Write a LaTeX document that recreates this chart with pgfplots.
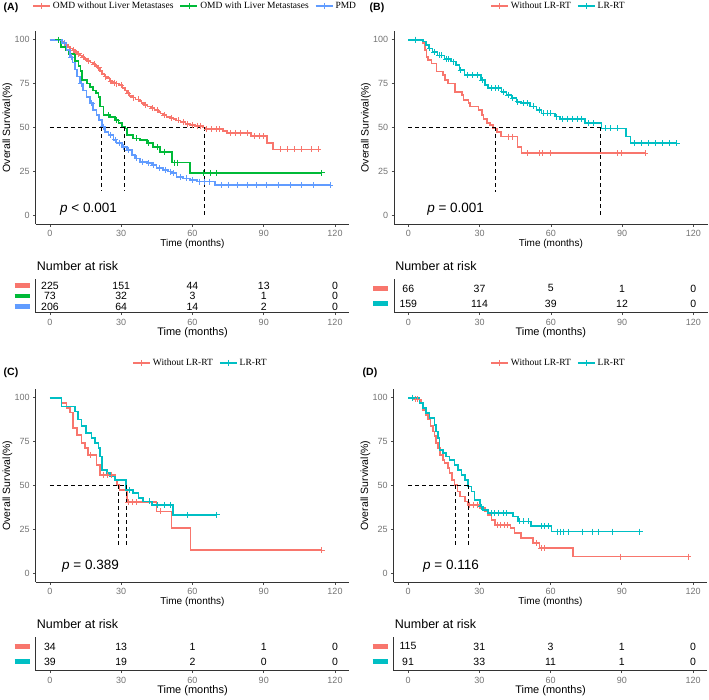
\documentclass[border=0pt]{standalone}
\usepackage{fontspec}
\setmainfont{Liberation Sans}
\newfontfamily\legfont{Liberation Serif}
\usepackage{pgfplots}
\pgfplotsset{compat=1.18}

\definecolor{kmred}{HTML}{F8766D}
\definecolor{kmgreen}{HTML}{00BA38}
\definecolor{kmblue}{HTML}{619CFF}
\definecolor{kmteal}{HTML}{00BFC4}

\newcommand{\sbar}[1]{\textcolor{#1}{\rule{15pt}{4.5pt}}}

\tikzset{pval/.style={anchor=west, inner sep=0pt, font=\fontsize{13.5}{15}\selectfont}}

\pgfplotsset{
  base/.style={
    scale only axis, anchor=south west,
    width=313.5pt, xmin=-6, xmax=126,
    xtick={0,30,60,90,120},
    axis lines=left, axis line style={-, line width=0.8pt, color=black!80},
    tick align=outside, tick style={line width=0.6pt, color=black!70},
    major tick length=2.5pt,
    /pgf/number format/assume math mode=true,
    ticklabel style={font=\fontsize{9}{10}\selectfont, text=black!55},
    xlabel={Time (months)},
    every axis x label/.style={at={(axis description cs:0.5,0)}, anchor=center, yshift=-20pt},
  },
  km/.style={base, height=193.2pt, ymin=-5, ymax=105, ytick={0,25,50,75,100},
    xlabel style={font=\fontsize{10}{12}\selectfont},
    ylabel={Overall Survival(\%)},
    every axis y label/.style={at={(axis description cs:-0.0901,0.5)}, rotate=90, anchor=center},
    ylabel style={font=\fontsize{10.5}{12}\selectfont},
    legend style={draw=none, fill=none, inner sep=0pt, anchor=west,
      font=\legfont\fontsize{9.5}{11}\selectfont, legend columns=-1,
      /tikz/every even column/.append style={column sep=4pt}},
  },
  risk/.style={base, height=33.4pt, ymin=0.4,
    ytick style={draw=none},
    xlabel style={font=\fontsize{11}{12}\selectfont},
    title={Number at risk},
    every axis title/.style={at={(axis description cs:0,1)}, anchor=west, inner sep=0pt,
      yshift=13pt, xshift=1pt, font=\fontsize{12.5}{14}\selectfont},
  },
  curve/.style={const plot, line width=1.7pt, forget plot},
  cens/.style={only marks, mark=+, mark size=3pt, mark options={line width=0.7pt}, forget plot},
  med/.style={black, line width=0.8pt, dash pattern=on 4pt off 3pt, forget plot},
  nar/.style={draw=none, mark=none, forget plot, nodes near coords,
    point meta=explicit symbolic, nodes near coords align=center,
    every node near coord/.append style={font=\fontsize{10.5}{12}\selectfont, text=black, inner sep=0pt}},
  lg/.style={line width=1.7pt, mark=+, mark size=3pt, mark options={line width=0.7pt}},
}

\begin{document}
\begin{tikzpicture}
\useasboundingbox (0pt,0pt) rectangle (709pt,700pt);

\node[font=\bfseries\fontsize{10.5}{12}\selectfont] at (11pt,692pt) {(A)};
\node[font=\bfseries\fontsize{10.5}{12}\selectfont] at (377pt,692pt) {(B)};
\node[font=\bfseries\fontsize{10.5}{12}\selectfont] at (11pt,327pt) {(C)};
\node[font=\bfseries\fontsize{10.5}{12}\selectfont] at (370pt,327pt) {(D)};

% ---------------- (A)
\begin{axis}[km, at={(35.75pt,475.9pt)},
  legend style={at={(axis description cs:-0.012,1.129)}}]
\addlegendimage{lg, kmred}\addlegendentry{OMD without Liver Metastases}
\addlegendimage{lg, kmgreen}\addlegendentry{OMD with Liver Metastases}
\addlegendimage{lg, kmblue}\addlegendentry{PMD}
\addplot[curve, kmred] table {
0 100
4.5 99
5.5 98
6.5 97
7.5 96
8.5 95
9.5 94
10.5 93
11.5 92
12.5 91
13.5 90
14.5 89
15.5 88
17 87
18 86
19 85
20 84
21 82
22 80.5
23 79
24 78
25 76.5
26 75.5
27.5 75
29 74
30.5 72.5
31.5 71
32.5 69.5
33.5 68
34.5 67
36 66
37.5 65
38.5 64
39.5 63
41 62
42.5 61
44 60
45.5 59
46.5 58
47.5 57
49 56
50.5 55.5
52 55
53 54
55 53
57 52
59 51.5
61 51
64.5 50
65.3 49
72.8 48
74.4 47
84.5 45
91.5 41
94 37.5
113 37.5
};
\addplot[cens, kmred] table {
6 98
10 94
12 92
14 90
16 88
18.5 86
20.5 84
23.5 79
25.5 76.5
27 75.5
28 75
30 74
33 69.5
35 67
37 66
40 63
43 61
45 60
48 57
51 55.5
54 54
56 53
58 52
60 51.5
62 51
63.5 51
66 49
68 49
70 49
71.5 49
76 47
78 47
80 47
83 47
86 45
88 45
90 45
97 37.5
100 37.5
103 37.5
106 37.5
110 37.5
113 37.5
};
\addplot[curve, kmgreen] table {
0 100
4.5 96
6.5 94
8 92
10.5 88
12 85
12.8 82
13.4 77
15.5 75
16.8 73
18.2 71
19.5 69.5
20.4 67.5
21 62
22.5 57
25.3 56
27.4 54.3
28.8 52.4
30.2 50.5
31.6 49.5
32.3 45.7
35 43.8
37.9 43
40.7 41
43.5 39
46.3 36.2
51.5 30
58.8 24.2
114.4 24.2
};
\addplot[cens, kmgreen] table {
3.5 100
24.5 57
28 54.3
36.5 43.8
41.5 41
45 39
48 36.2
52.5 30
53.5 30
64.6 24.2
67.4 24.2
70 24.2
114.4 24.2
};
\addplot[curve, kmblue] table {
0 100
5 98
7 94
8.4 90
9.5 87
10.5 83
11.5 79
12.6 75
14 71
15.4 67.5
16.8 64
18.2 60
19.6 57
20.6 54.3
21.8 50.5
23.2 47.6
24.6 45.7
26.7 43
28 41
30.2 39
32.3 37.2
34.4 34.3
35.8 32.4
37.9 30.5
40.7 29.6
42.8 28.7
44.9 26.8
47.7 25.8
49.8 24.9
51.2 24
53.3 22
56.1 21
59 20.1
61.8 19.2
69.5 17.3
118 17.3
};
\addplot[cens, kmblue] table {
6 98
9 90
13 75
17.5 64
22.5 50.5
25.5 45.7
27.5 43
29 41
31 39
33 37.2
36.5 32.4
39 30.5
41.5 29.6
43.5 28.7
46 26.8
48.5 25.8
50.5 24.9
52 24
55 22
57.5 21
60 20.1
63 19.2
65 19.2
67 19.2
72 17.3
75 17.3
79 17.3
83 17.3
87 17.3
91 17.3
96 17.3
101 17.3
106 17.3
111 17.3
118 17.3
};
\addplot[med] coordinates {(0,50) (64.8,50)};
\addplot[med] coordinates {(21.8,50) (21.8,14)};
\addplot[med] coordinates {(31.2,50) (31.2,14)};
\addplot[med] coordinates {(64.8,50) (64.8,0)};
\node[pval] at (axis cs:4.2,3.6) {\textit{p} < 0.001};
\end{axis}

\begin{axis}[risk, at={(35.75pt,387.3pt)}, ymax=3.6, ytick={1,2,3},
  yticklabels={\sbar{kmblue},\sbar{kmgreen},\sbar{kmred}}]
\addplot[nar] table[meta=n] {
x y n
0 3 225
30 3 151
60 3 44
90 3 13
120 3 0
0 2 73
30 2 32
60 2 3
90 2 1
120 2 0
0 1 206
30 1 64
60 1 14
90 1 2
120 1 0
};
\end{axis}

% ---------------- (B)
\begin{axis}[km, at={(394.05pt,475.9pt)},
  legend style={at={(axis description cs:0.306,1.129)}}]
\addlegendimage{lg, kmred}\addlegendentry{Without LR-RT}
\addlegendimage{lg, kmteal}\addlegendentry{LR-RT}
\addplot[curve, kmred] table {
0 100
6.3 98
7 94
7.6 90
8.4 88.4
9.8 86.5
11.9 81.8
14.7 80
15.4 77
16.8 75
19.6 70.4
22.5 68.5
23.2 65.7
25.3 63.8
26 61.9
29.5 60
30.9 57
31.6 55
33 52.4
34.4 51.4
35.8 49.5
37.2 47.6
38.9 44.8
46 39
47.7 35.3
99.6 35.3
};
\addplot[cens, kmred] table {
3 100
42 44.8
44 44.8
50 35.3
55 35.3
56.5 35.3
60 35.3
88 35.3
89.5 35.3
99.6 35.3
};
\addplot[curve, kmteal] table {
0 100
6.3 99
7.4 97
8.8 95
10.2 93
12.3 91
15.2 89
18 87.5
20.1 85.6
21.5 82.7
23.7 80
30.5 77
32.3 74
33.7 72.3
39.3 70.4
41.4 68.5
43.5 66.6
45.6 64.7
47.7 63.8
51.2 62
54 60
56.1 58
61.8 56.2
63.9 55
74.4 52.4
81.4 49.5
91.6 44.8
93.6 41
113 41
};
\addplot[cens, kmteal] table {
3 100
9 95
11 93
13 91
14 91
16 89
17 89
19 87.5
22 82.7
25 80
27 80
29 80
31 77
35 72.3
36.5 72.3
38 72.3
40 70.4
42 68.5
44 66.6
46 64.7
48.5 63.8
50 63.8
52.5 62
55 60
57 58
58.5 58
60 58
62.5 56.2
65 55
67 55
69 55
71 55
73 55
76 52.4
78 52.4
83 49.5
85 49.5
88 49.5
95 41
98 41
101 41
104 41
107 41
110 41
113 41
};
\addplot[med] coordinates {(0,50) (81,50)};
\addplot[med] coordinates {(36.8,50) (36.8,13)};
\addplot[med] coordinates {(81,50) (81,0)};
\node[pval] at (axis cs:7.9,3.6) {\textit{p} = 0.001};
\end{axis}

\begin{axis}[risk, at={(394.05pt,387.3pt)}, ymax=2.6, ytick={1,2},
  yticklabels={\sbar{kmteal},\sbar{kmred}}]
\addplot[nar] table[meta=n] {
x y n
0 2 66
30 2 37
60 2 5
90 2 1
120 2 0
0 1 159
30 1 114
60 1 39
90 1 12
120 1 0
};
\end{axis}

% ---------------- (C)
\begin{axis}[km, at={(35.75pt,117.9pt)},
  legend style={at={(axis description cs:0.307,1.135)}}]
\addlegendimage{lg, kmred}\addlegendentry{Without LR-RT}
\addlegendimage{lg, kmteal}\addlegendentry{LR-RT}
\addplot[curve, kmred] table {
0 100
4.9 97
7 94.3
8.4 91.6
9.6 82.7
11.5 78.9
13.3 74
14.7 71.3
16.1 67.5
19.6 61.8
21 56
27.4 53.2
28.3 50.4
29.3 47.5
32.3 40.5
44.9 35.2
51.2 25.7
59.2 13.3
114.4 13.3
};
\addplot[cens, kmred] table {
16.8 67.5
22.5 56
24 56
26 56
33 40.5
34.5 40.5
36.5 40.5
46.5 35.2
114.4 13.3
};
\addplot[curve, kmteal] table {
0 100
4.9 95
10.5 92.2
11.9 87.5
13.3 83.7
15.2 79.8
17.5 77
18.9 74
20.4 71.3
21.1 66.5
21.8 58.9
23.9 57
25.3 55.1
27.4 53.2
32 47.5
35 45.6
37.2 42.8
39.3 40.9
42.8 39
51.9 33.3
70.2 33.3
};
\addplot[cens, kmteal] table {
33.5 47.5
42 40.9
45 39
48 39
50.5 39
58 33.3
70.2 33.3
};
\addplot[med] coordinates {(0,50) (32,50)};
\addplot[med] coordinates {(28.9,50) (28.9,14.3)};
\addplot[med] coordinates {(32,50) (32,14.3)};
\node[pval] at (axis cs:5.05,3.8) {\textit{p} = 0.389};
\end{axis}

\begin{axis}[risk, at={(35.75pt,29.3pt)}, ymax=2.6, ytick={1,2},
  yticklabels={\sbar{kmteal},\sbar{kmred}}]
\addplot[nar] table[meta=n] {
x y n
0 2 34
30 2 13
60 2 1
90 2 1
120 2 0
0 1 39
30 1 19
60 1 2
90 1 0
120 1 0
};
\end{axis}

% ---------------- (D)
\begin{axis}[km, at={(393.75pt,117.9pt)},
  legend style={at={(axis description cs:0.307,1.135)}}]
\addlegendimage{lg, kmred}\addlegendentry{Without LR-RT}
\addlegendimage{lg, kmteal}\addlegendentry{LR-RT}
\addplot[curve, kmred] table {
0 100
2.1 99
5.6 97
6.3 93
7.7 90
8.4 87.5
9.5 83.7
10.5 80.8
11.2 78
11.9 74
12.6 71.3
13.6 67.5
14.7 64.6
15.4 62.7
16.8 59.9
17.5 57
18.5 53.2
19.6 50.4
20.8 46.6
21.8 43.7
23.9 40.9
25.3 39
30.2 37
32.3 35.2
33.7 33.3
35.1 30.4
36.5 27.6
43.2 25.7
44.9 22.8
47.7 20
52.6 17.1
55.4 14.3
69.5 9.5
117.9 9.5
};
\addplot[cens, kmred] table {
3 99
4 99
26 39
27.5 39
29 39
37.5 27.6
39 27.6
40.5 27.6
42 27.6
54 17.1
56 14.3
57.5 14.3
89.5 9.5
117.9 9.5
};
\addplot[curve, kmteal] table {
0 100
4.9 97
6.3 94
7.7 91.2
9.1 88.4
11.2 84.6
11.9 80.8
12.6 77
13.3 70.3
14.7 68.4
16.1 66.5
17.5 64.6
19.6 61.8
21 58.9
22.5 56
23.9 53.2
25.3 49.4
26.7 46.6
28 41.8
30.2 38
31.6 36.1
33.7 34.2
44.2 32.3
46.3 29.5
51.9 27
60.4 23.8
97.5 23.8
};
\addplot[cens, kmteal] table {
2 100
30.8 38
35 34.2
36.5 34.2
38 34.2
40 34.2
41.5 34.2
47 29.5
48.5 29.5
50.5 29.5
56 27
57.5 27
59 27
63 23.8
64 23.8
65.5 23.8
67.5 23.8
73.5 23.8
77.5 23.8
80 23.8
86 23.8
97.5 23.8
};
\addplot[med] coordinates {(0,50) (25.3,50)};
\addplot[med] coordinates {(19.9,50) (19.9,14.3)};
\addplot[med] coordinates {(25.3,50) (25.3,14.3)};
\node[pval] at (axis cs:6.3,3.8) {\textit{p} = 0.116};
\end{axis}

\begin{axis}[risk, at={(393.75pt,29.3pt)}, ymax=2.6, ytick={1,2},
  yticklabels={\sbar{kmteal},\sbar{kmred}}]
\addplot[nar] table[meta=n] {
x y n
0 2 115
30 2 31
60 2 3
90 2 1
120 2 0
0 1 91
30 1 33
60 1 11
90 1 1
120 1 0
};
\end{axis}
\end{tikzpicture}
\end{document}
